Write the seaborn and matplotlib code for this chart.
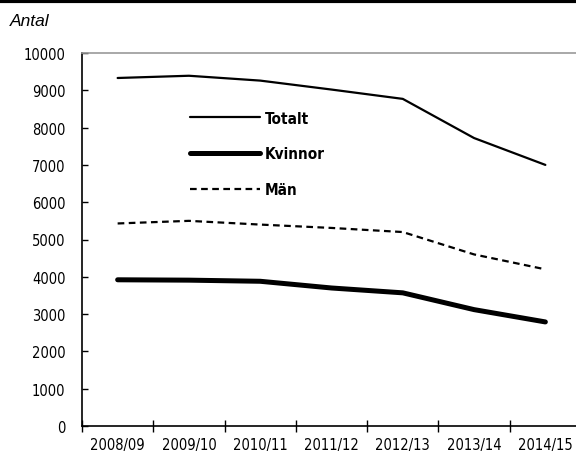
import pandas as pd
import seaborn as sns
import matplotlib.pyplot as plt
from matplotlib.lines import Line2D

years = ["2008/09", "2009/10", "2010/11", "2011/12", "2012/13", "2013/14", "2014/15"]
totalt = [9330, 9390, 9260, 9020, 8770, 7720, 7000]
kvinnor = [3920, 3910, 3880, 3700, 3570, 3120, 2790]
man = [5430, 5500, 5400, 5310, 5200, 4600, 4200]

series = ["Totalt", "Kvinnor", "Män"]

df = pd.DataFrame({
    "year": years * 3,
    "pos": list(range(len(years))) * 3,
    "antal": totalt + kvinnor + man,
    "serie": [s for s in series for _ in years],
})

sns.set_style("white", {"text.color": "black", "xtick.color": "black",
                        "ytick.color": "black", "axes.labelcolor": "black"})
plt.rcParams['font.family'] = ['DejaVu Sans']
plt.rcParams['font.stretch'] = 'condensed'

fig = plt.figure(figsize=(5.76, 4.52), dpi=100)
ax = fig.add_axes([82 / 576, 1 - 427 / 452, 499 / 576, 373 / 452])

styles = {
    "Totalt": dict(linewidth=1.6, linestyle="-"),
    "Kvinnor": dict(linewidth=3.6, linestyle="-"),
    "Män": dict(linewidth=1.6, linestyle=(0, (3, 2))),
}
for s in series:
    sns.lineplot(data=df[df["serie"] == s], x="pos", y="antal", ax=ax,
                 color="black", label=s, **styles[s])

ax.set_xlim(-0.5, len(years) - 0.5)
ax.set_ylim(0, 10000)
ax.set_yticks(range(0, 10001, 1000))
ax.set_xticks([i - 0.5 for i in range(len(years) + 1)])
ax.set_xticklabels([])
ax.set_xticks(range(len(years)), minor=True)
ax.set_xticklabels(years, minor=True)
ax.set_xlabel("")
ax.set_ylabel("")

ax.tick_params(axis="y", direction="in", length=4, width=1, pad=12,
               labelsize=10.5, left=True, color="black", labelcolor="black")
ax.tick_params(axis="x", which="major", direction="inout", length=9, width=1,
               bottom=True, color="black")
ax.tick_params(axis="x", which="minor", length=0, pad=8, labelsize=10.5,
               labelcolor="black")

for side in ["left", "bottom"]:
    ax.spines[side].set_color("black")
    ax.spines[side].set_linewidth(1.2)
ax.spines["top"].set_color("#999999")
ax.spines["top"].set_linewidth(1.2)
ax.spines["right"].set_visible(False)

leg = ax.legend(loc="upper left", bbox_to_anchor=(176 / 576, 1 - 98 / 452),
                bbox_transform=fig.transFigure, frameon=False,
                handlelength=4.6, handletextpad=0.3, labelspacing=1.35,
                prop={"weight": "bold", "size": 11}, labelcolor="black")

fig.text(10 / 576, 1 - 22 / 452, "Antal", style="italic", fontsize=12.5,
         color="black", family=["Liberation Sans", "DejaVu Sans"],
         va="center", ha="left")

fig.add_artist(Line2D([0, 1], [1 - 1.5 / 452, 1 - 1.5 / 452], color="black",
                      linewidth=3, transform=fig.transFigure))

fig.savefig("out.png", dpi=100)
